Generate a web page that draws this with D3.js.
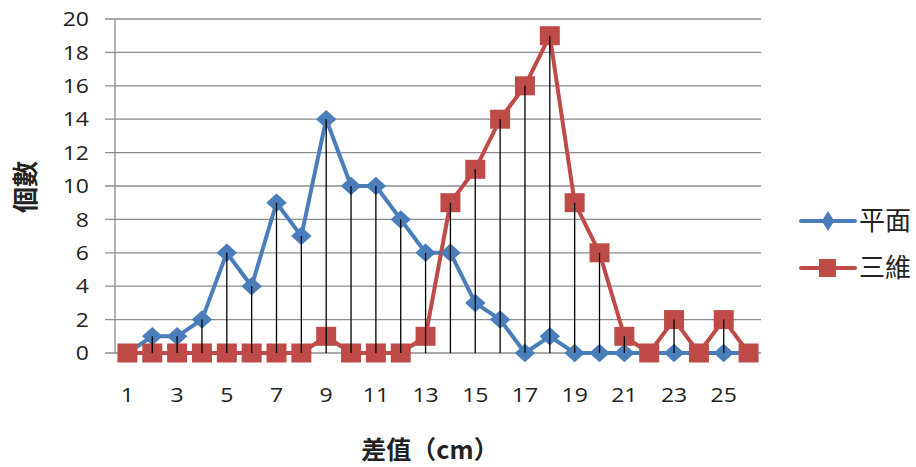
<!DOCTYPE html>
<html><head><meta charset="utf-8">
<script src="https://cdn.jsdelivr.net/npm/d3@7"></script>
<style>body{margin:0;background:#fff}svg{display:block}</style>
</head><body><svg id="c" width="916" height="467"></svg>
<script>
const categories = d3.range(1, 27).map(String);
const seriesNames = ["平面", "三維"];
const planeValues = [0,1,1,2,6,4,9,7,14,10,10,8,6,6,3,2,0,1,0,0,0,0,0,0,0,0];
const threeDValues = [0,0,0,0,0,0,0,0,1,0,0,0,1,9,11,14,16,19,9,6,1,0,2,0,2,0];
const yTicks = [0,2,4,6,8,10,12,14,16,18,20];
const xTickLabels = categories.filter((d,i)=>i%2===0);
const colors = ["#4A7EBB", "#BE4B48"];

const svg = d3.select("#c");
const font = "'Open Sans', 'Noto Sans CJK TC', sans-serif";
const cjk = "'Noto Sans CJK TC', sans-serif";
const L = 115, R = 761, T = 19, B = 353;
const x = d3.scaleBand().domain(categories).range([L, R]);
const y = d3.scaleLinear().domain([0, 20]).range([B, T]);
const cx = d => x(d) + x.bandwidth()/2;
const SX = 1.15;

// gridlines
svg.append("g").selectAll("line").data(yTicks).join("line")
  .attr("x1", L - 10).attr("x2", R).attr("y1", d=>y(d)).attr("y2", d=>y(d))
  .attr("stroke", "#8c8c8c").attr("stroke-width", 1.3);
svg.append("line").attr("x1", L).attr("x2", L).attr("y1", T).attr("y2", B)
  .attr("stroke", "#8c8c8c").attr("stroke-width", 1.3);

// y labels
svg.append("g").selectAll("text").data(yTicks).join("text")
  .attr("transform", d=>`translate(89,${y(d)}) scale(${SX},1)`).attr("dy", "0.36em").attr("text-anchor", "end")
  .attr("font-family", font).attr("font-size", 20).attr("fill", "#222").text(d=>d);
// x labels
svg.append("g").selectAll("text").data(xTickLabels).join("text")
  .attr("transform", d=>`translate(${cx(d)},395) scale(${SX},1)`).attr("dy", "0.36em").attr("text-anchor", "middle")
  .attr("font-family", font).attr("font-size", 20).attr("fill", "#222").text(d=>d);

const series = [planeValues, threeDValues];
const line = d3.line().x((d,i)=>cx(categories[i])).y(d=>y(d));
series.forEach((vals, s) => {
  svg.append("path").datum(vals).attr("d", line).attr("fill", "none")
    .attr("stroke", colors[s]).attr("stroke-width", 4).attr("stroke-linejoin", "round");
});
// markers
svg.append("g").selectAll("path").data(planeValues).join("path")
  .attr("d", d3.symbol().type(d3.symbolSquare).size(190)())
  .attr("transform", (d,i)=>`translate(${cx(categories[i])},${y(d)}) scale(1.05,0.95) rotate(45)`)
  .attr("fill", colors[0]);
svg.append("g").selectAll("rect").data(threeDValues).join("rect")
  .attr("x", (d,i)=>cx(categories[i]) - 10).attr("y", d=>y(d) - 9.5)
  .attr("width", 20).attr("height", 19).attr("fill", colors[1]);

// drop lines
svg.append("g").selectAll("line").data(categories).join("line")
  .attr("x1", d=>cx(d)).attr("x2", d=>cx(d))
  .attr("y1", (d,i)=>y(Math.max(planeValues[i], threeDValues[i]))).attr("y2", y(0))
  .attr("stroke", "#000").attr("stroke-width", 1.3);

// axis titles
svg.append("text").attr("x", 430).attr("y", 450).attr("dy", "0.35em").attr("text-anchor", "middle")
  .attr("font-family", cjk).attr("font-size", 25).attr("font-weight", "bold").attr("fill", "#222").text("差值（cm）");
svg.append("text").attr("transform", "translate(26,187) rotate(-90)").attr("dy", "0.35em").attr("text-anchor", "middle")
  .attr("font-family", cjk).attr("font-size", 26).attr("font-weight", "bold").attr("fill", "#222").text("個數");

// legend
const leg = svg.append("g");
seriesNames.forEach((n, s) => {
  const ly = s === 0 ? 221 : 268;
  leg.append("line").attr("x1", 801).attr("x2", 855).attr("y1", ly).attr("y2", ly)
    .attr("stroke", colors[s]).attr("stroke-width", 4).attr("stroke-linecap", "round");
  if (s === 0) {
    leg.append("path").attr("d", d3.symbol().type(d3.symbolSquare).size(140)())
      .attr("transform", `translate(828,${ly}) scale(0.75,1.2) rotate(45)`).attr("fill", colors[0]);
  } else {
    leg.append("rect").attr("x", 819).attr("y", ly-9).attr("width", 17).attr("height", 18).attr("fill", colors[1]);
  }
  leg.append("text").attr("x", 859).attr("y", ly).attr("dy", "0.36em")
    .attr("font-family", cjk).attr("font-size", 26).attr("fill", "#222").text(n);
});
</script></body></html>
